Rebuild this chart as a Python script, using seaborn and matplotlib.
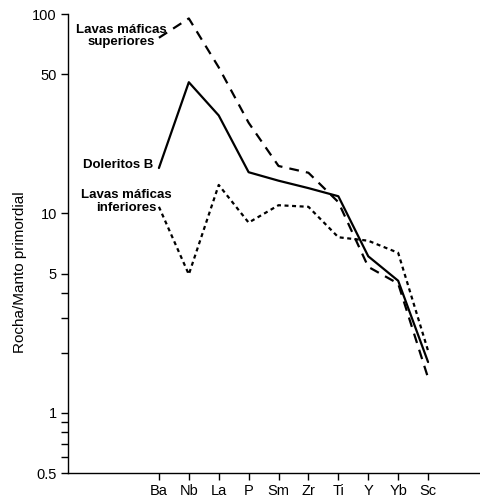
import numpy as np
import pandas as pd
import matplotlib
matplotlib.use("Agg")
import matplotlib.pyplot as plt
import seaborn as sns
from matplotlib.ticker import FixedLocator, NullFormatter

elements = ["Ba", "Nb", "La", "P", "Sm", "Zr", "Ti", "Y", "Yb", "Sc"]
lavas_sup = [76, 95, 54, 28.5, 17.3, 16.0, 11.4, 5.4, 4.45, 1.5]
doleritos_b = [16.9, 45.5, 31, 16.1, 14.6, 13.4, 12.2, 6.1, 4.6, 1.8]
lavas_inf = [10.8, 4.95, 13.9, 9.0, 11.0, 10.8, 7.6, 7.3, 6.35, 2.05]

y_major = [0.5, 1, 5, 10, 50, 100]
y_major_labels = ["0.5", "1", "5", "10", "50", "100"]
y_minor = [0.6, 0.7, 0.8, 0.9, 2, 3, 4]

sns.set_style("ticks")
plt.rcParams['font.family'] = ['Liberation Sans', 'DejaVu Sans']
plt.rcParams.update({"text.color": "black", "axes.labelcolor": "black",
                     "xtick.color": "black", "ytick.color": "black"})

df = pd.DataFrame({
    "pos": np.arange(len(elements)),
    "sup": lavas_sup,
    "dol": doleritos_b,
    "inf": lavas_inf,
})

fig = plt.figure(figsize=(4.81, 4.98), dpi=100)
ax = fig.add_axes([68 / 481, 1 - 473 / 498, 1 - 68 / 481, (473 - 14) / 498])

sns.lineplot(data=df, x="pos", y="sup", ax=ax, color="black", lw=1.6,
             linestyle=(0, (4.4, 3.2)))
sns.lineplot(data=df, x="pos", y="dol", ax=ax, color="black", lw=1.6)
sns.lineplot(data=df, x="pos", y="inf", ax=ax, color="black", lw=1.6,
             linestyle=(0, (1.8, 1.6)))

ax.set_yscale("log")
ax.set_ylim(0.5, 100)
ax.set_xlim(-3.04, 10.77)
ax.yaxis.set_major_locator(FixedLocator(y_major))
ax.set_yticklabels(y_major_labels)
ax.yaxis.set_minor_locator(FixedLocator(y_minor))
ax.yaxis.set_minor_formatter(NullFormatter())
ax.set_xticks(df["pos"])
ax.set_xticklabels(elements)

ax.tick_params(axis="both", which="major", direction="out", length=5, width=1,
               labelsize=10.5, color="black", pad=3)
ax.tick_params(axis="y", which="minor", direction="out", length=5, width=1,
               color="black")
for s in ["top", "right"]:
    ax.spines[s].set_visible(False)
for s in ["left", "bottom"]:
    ax.spines[s].set_linewidth(1.0)
    ax.spines[s].set_color("black")

ax.set_xlabel("")
ax.set_ylabel("Rocha/Manto primordial", fontsize=11)
ax.yaxis.set_label_coords(-0.099, 0.438)

lab = dict(fontsize=9.5, fontweight="bold", va="center")
ax.text(-1.27, 77.6, "Lavas máficas\nsuperiores", ha="center",
        linespacing=1.1, **lab)
ax.text(-0.2, 17.5, "Doleritos B", ha="right", **lab)
ax.text(-1.09, 11.5, "Lavas máficas\ninferiores", ha="center",
        linespacing=1.1, **lab)

fig.savefig("out.png", dpi=100)
